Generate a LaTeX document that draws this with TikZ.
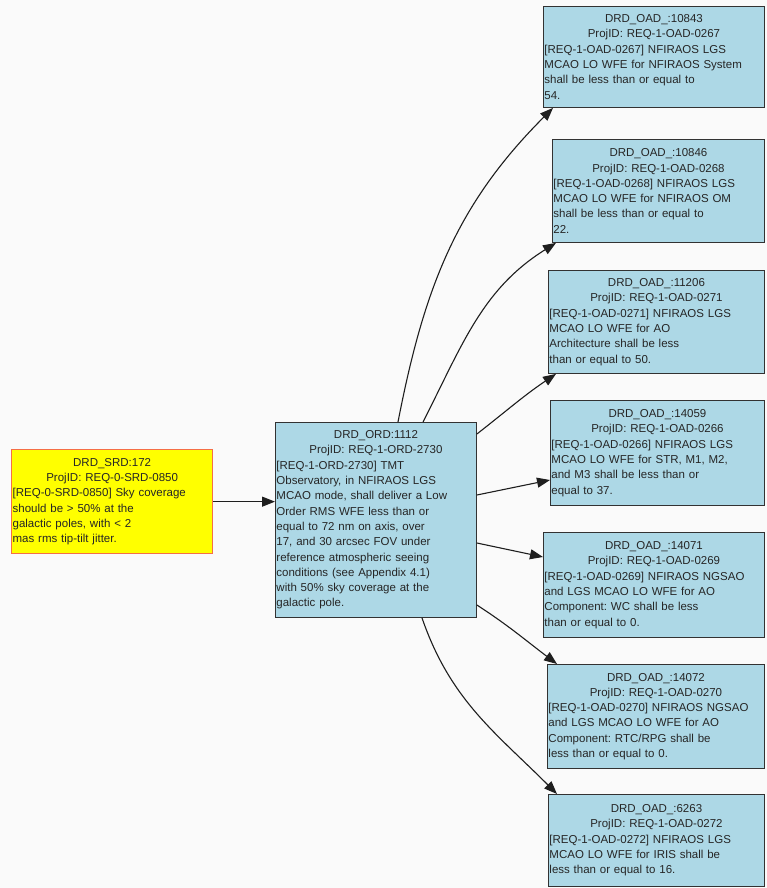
\documentclass[tikz,border=0pt]{standalone}
\usepackage{fontspec}
\setmainfont{Liberation Sans}
\usetikzlibrary{arrows.meta,calc}
\definecolor{oadblue}{RGB}{173,216,230}
\definecolor{srdyellow}{RGB}{255,255,0}
\definecolor{srdline}{RGB}{245,110,70}
\definecolor{boxline}{RGB}{50,50,50}
\definecolor{linkgray}{RGB}{30,30,30}
\definecolor{bgcol}{RGB}{250,250,250}
\newcommand\reqfont{\fontsize{11.5pt}{15.3pt}\selectfont\frenchspacing}
\begin{document}
\begin{tikzpicture}[x=1pt,y=1pt,
  basebox/.style={draw=boxline, line width=0.9pt, anchor=north west, inner xsep=1pt, inner ysep=0pt, align=left, font=\reqfont, text=black!85},
  oad/.style={basebox, fill=oadblue},
  srdbox/.style={basebox, fill=srdyellow, draw=srdline, line width=1.3pt},
  link/.style={draw=linkgray, line width=1.1pt, -{Triangle[length=13pt,width=10pt]}}]
\fill[bgcol] (0,0) rectangle (767,-888);
\useasboundingbox (0,0) rectangle (767,-888);

\node[srdbox, minimum width=201pt, minimum height=104pt, text width=199pt] (srd) at (11,-449)
 {{\centering DRD\_SRD:172\\ ProjID: REQ-0-SRD-0850\par}[REQ-0-SRD-0850] Sky coverage\\ should be > 50\% at the\\ galactic poles, with < 2\\ mas rms tip-tilt jitter.};

\node[oad, minimum width=201pt, minimum height=195pt, text width=199pt] (ord) at (275,-422)
 {{\centering DRD\_ORD:1112\\ ProjID: REQ-1-ORD-2730\par}[REQ-1-ORD-2730] TMT\\ Observatory, in NFIRAOS LGS\\ MCAO mode, shall deliver a Low\\ Order RMS WFE less than or\\ equal to 72 nm on axis, over\\ 17, and 30 arcsec FOV under\\ reference atmospheric seeing\\ conditions (see Appendix 4.1)\\ with 50\% sky coverage at the\\ galactic pole.};

\node[oad, minimum width=221pt, minimum height=101pt, text width=219pt] (o1) at (543,-6)
 {{\centering DRD\_OAD\_:10843\\ ProjID: REQ-1-OAD-0267\par}[REQ-1-OAD-0267] NFIRAOS LGS\\ MCAO LO WFE for NFIRAOS System\\ shall be less than or equal to\\ 54.};

\node[oad, minimum width=212pt, minimum height=103pt, text width=210pt] (o2) at (552,-139)
 {{\centering DRD\_OAD\_:10846\\ ProjID: REQ-1-OAD-0268\par}[REQ-1-OAD-0268] NFIRAOS LGS\\ MCAO LO WFE for NFIRAOS OM\\ shall be less than or equal to\\ 22.};

\node[oad, minimum width=216pt, minimum height=103pt, text width=214pt] (o3) at (548,-270)
 {{\centering DRD\_OAD\_:11206\\ ProjID: REQ-1-OAD-0271\par}[REQ-1-OAD-0271] NFIRAOS LGS\\ MCAO LO WFE for AO\\ Architecture shall be less\\ than or equal to 50.};

\node[oad, minimum width=214pt, minimum height=105pt, text width=212pt] (o4) at (550,-400)
 {{\centering DRD\_OAD\_:14059\\ ProjID: REQ-1-OAD-0266\par}[REQ-1-OAD-0266] NFIRAOS LGS\\ MCAO LO WFE for STR, M1, M2,\\ and M3 shall be less than or\\ equal to 37.};

\node[oad, minimum width=221pt, minimum height=105pt, text width=219pt] (o5) at (543,-532)
 {{\centering DRD\_OAD\_:14071\\ ProjID: REQ-1-OAD-0269\par}[REQ-1-OAD-0269] NFIRAOS NGSAO\\ and LGS MCAO LO WFE for AO\\ Component: WC shall be less\\ than or equal to 0.};

\node[oad, minimum width=217pt, minimum height=104pt, text width=215pt] (o6) at (547,-664)
 {{\centering DRD\_OAD\_:14072\\ ProjID: REQ-1-OAD-0270\par}[REQ-1-OAD-0270] NFIRAOS NGSAO\\ and LGS MCAO LO WFE for AO\\ Component: RTC/RPG shall be\\ less than or equal to 0.};

\node[oad, minimum width=216pt, minimum height=92pt, text width=214pt] (o7) at (548,-794)
 {{\centering DRD\_OAD\_:6263\\ ProjID: REQ-1-OAD-0272\par}[REQ-1-OAD-0272] NFIRAOS LGS\\ MCAO LO WFE for IRIS shall be\\ less than or equal to 16.};

\draw[link] (srd.east) -- (srd.east -| ord.west);
\draw[link] ($(ord.north west)+(123,0)$) to[out=79,in=225] ($(o1.south west)+(10,0)$);
\draw[link] ($(ord.north west)+(148,0)$) to[out=63,in=212] ($(o2.south west)+(4,0)$);
\draw[link] ($(ord.north east)+(0,-12)$) to[out=38,in=214] ($(o3.south west)+(8,0)$);
\draw[link] ($(ord.north east)+(0,-73)$) -- ($(o4.north west)+(0,-80)$);
\draw[link] ($(ord.north east)+(0,-121)$) -- ($(o5.north west)+(0,-25)$);
\draw[link] ($(ord.north east)+(0,-183)$) to[out=-33,in=143] ($(o6.north west)+(10,0)$);
\draw[link] ($(ord.south west)+(147,0)$) to[out=-71,in=135] ($(o7.north west)+(9,0)$);
\end{tikzpicture}
\end{document}
